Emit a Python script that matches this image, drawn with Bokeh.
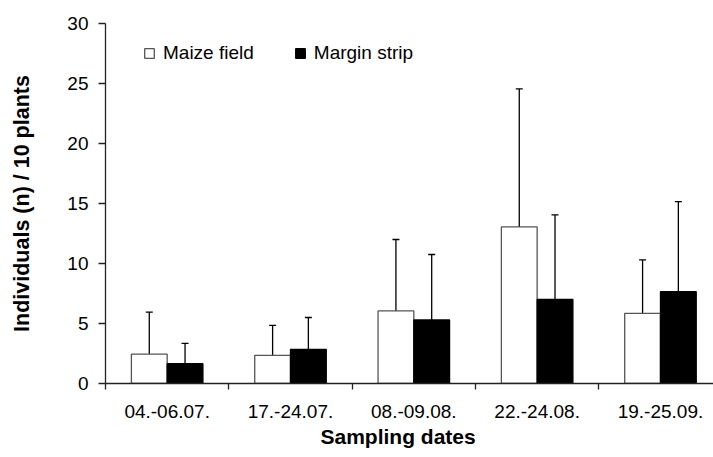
import numpy as np
from bokeh.plotting import figure
from bokeh.models import (Range1d, FixedTicker, Whisker, TeeHead, ColumnDataSource,
                          Legend, LegendItem, Title)
from bokeh.embed import file_html
from bokeh.resources import INLINE

# ---- data ----
dates = ["04.-06.07.", "17.-24.07.", "08.-09.08.", "22.-24.08.", "19.-25.09."]
maize_mean = [2.45, 2.35, 6.05, 13.05, 5.85]
maize_sd = [3.5, 2.5, 5.95, 11.5, 4.45]
margin_mean = [1.65, 2.85, 5.3, 7.0, 7.65]
margin_sd = [1.7, 2.65, 5.45, 7.05, 7.5]
y_ticks = [0, 5, 10, 15, 20, 25, 30]

FONT = "Liberation Sans"
BAR_W = 0.29

idx = np.arange(len(dates))
centers = idx + 0.5
mx = centers - BAR_W / 2
gx = centers + BAR_W / 2

src_m = ColumnDataSource(dict(x=mx, top=maize_mean,
                              hi=np.array(maize_mean) + np.array(maize_sd)))
src_g = ColumnDataSource(dict(x=gx, top=margin_mean,
                              hi=np.array(margin_mean) + np.array(margin_sd)))

p = figure(width=713, height=457, output_backend="svg", toolbar_location=None,
           x_range=Range1d(0, 4.93), y_range=Range1d(0, 30),
           min_border_left=105, min_border_right=0, min_border_top=23,
           min_border_bottom=74)
p.outline_line_color = None
p.xgrid.grid_line_color = None
p.ygrid.grid_line_color = None
p.background_fill_color = "white"
p.border_fill_color = "white"

# error bars (upper only)
for s in (src_m, src_g):
    w = Whisker(base="x", lower="top", upper="hi", source=s,
                upper_head=TeeHead(size=7, line_color="black", line_width=1.3),
                lower_head=None, line_color="black", line_width=1.3, level="underlay")
    p.add_layout(w)

r_m = p.vbar(x="x", top="top", width=BAR_W, bottom=0, source=src_m,
             fill_color="white", line_color="#555555", line_width=1.3)
r_g = p.vbar(x="x", top="top", width=BAR_W, bottom=0, source=src_g,
             fill_color="black", line_color="black", line_width=1.3)

# x axis
xa = p.xaxis[0]
xa.ticker = FixedTicker(ticks=list(centers), minor_ticks=list(range(len(dates) + 1)))
xa.major_label_overrides = {float(c): d for c, d in zip(centers, dates)}
xa.major_tick_line_color = None
xa.major_tick_out = 0
xa.minor_tick_out = 6
xa.minor_tick_in = 0
xa.minor_tick_line_color = "#222222"
xa.minor_tick_line_width = 1.3
xa.axis_line_color = "#222222"
xa.axis_line_width = 1.3
xa.major_label_standoff = 15
xa.major_label_text_font = FONT
xa.major_label_text_font_size = "19px"
xa.major_label_text_color = "black"

# y axis
ya = p.yaxis[0]
ya.ticker = FixedTicker(ticks=y_ticks, minor_ticks=[])
ya.major_tick_out = 7
ya.major_tick_in = 0
ya.major_tick_line_color = "#222222"
ya.major_tick_line_width = 1.3
ya.axis_line_color = "#222222"
ya.axis_line_width = 1.3
ya.minor_tick_line_color = None
ya.major_label_standoff = 10
ya.major_label_text_font = FONT
ya.major_label_text_font_size = "19px"
ya.major_label_text_color = "black"
ya.axis_label = "Individuals (n) / 10 plants"
ya.axis_label_text_font = FONT
ya.axis_label_text_font_style = "bold"
ya.axis_label_text_font_size = "21.5px"
ya.axis_label_text_color = "black"
ya.axis_label_standoff = 30

# x-axis title as a side title (slightly left of centre, as in the reference)
p.add_layout(Title(text="Sampling dates", align="left", offset=215,
                   text_font=FONT, text_font_style="bold", text_font_size="21px",
                   text_color="black", standoff=5), "below")

legend = Legend(items=[LegendItem(label="Maize field", renderers=[r_m]),
                       LegendItem(label="Margin strip", renderers=[r_g])],
                orientation="horizontal", location=(38, 319),
                glyph_width=12, glyph_height=12, label_standoff=8, spacing=40,
                padding=0, margin=0, border_line_color=None,
                background_fill_alpha=0,
                label_text_font=FONT, label_text_font_size="19px",
                label_text_color="black")
p.add_layout(legend)

open("out.html", "w").write(file_html(p, INLINE))
